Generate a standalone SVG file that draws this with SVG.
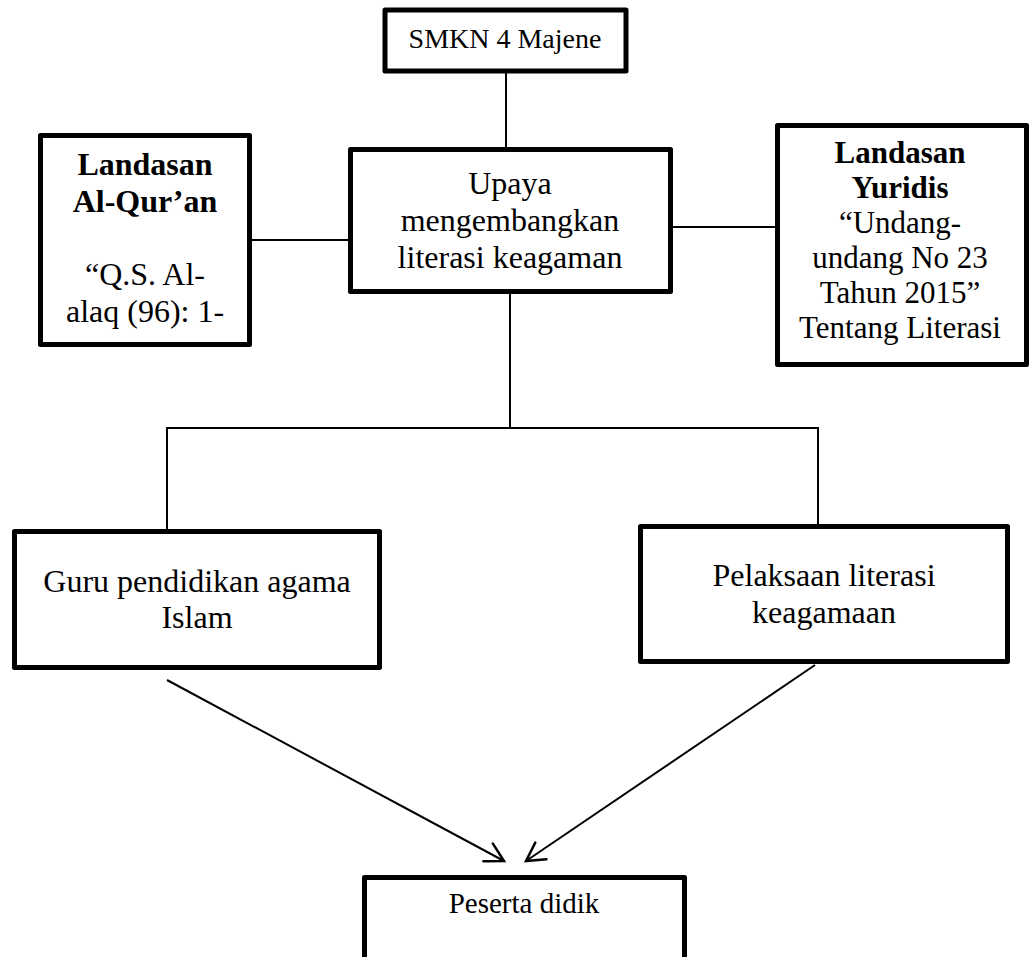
<svg xmlns="http://www.w3.org/2000/svg" width="1031" height="957" viewBox="0 0 1031 957">
<defs>
<style>
.box{fill:#fff;stroke:#000;stroke-width:5;stroke-linejoin:round}
.t{font-family:"Liberation Serif","Times New Roman",serif;font-size:32px;fill:#000;text-anchor:middle}
.r{font-size:31px}
.b{font-weight:bold}
.c{fill:none;stroke:#000;stroke-width:2}
</style>
<marker id="arr" markerWidth="24" markerHeight="24" refX="20" refY="12" orient="auto" markerUnits="userSpaceOnUse">
<path d="M2,2 L20,12 L2,22" fill="none" stroke="#000" stroke-width="2.5" stroke-linecap="round" stroke-linejoin="miter"/>
</marker>
</defs>
<rect width="1031" height="957" fill="#fff"/>
<g id="connectors">
<line class="c" x1="506" y1="73" x2="506" y2="148"/>
<line class="c" x1="252" y1="240" x2="348" y2="240"/>
<line class="c" x1="673" y1="227" x2="775" y2="227"/>
<polyline class="c" points="510,294 510,428"/>
<polyline class="c" points="167,529 167,428 818,428 818,524"/>
<line class="c" x1="167" y1="680" x2="504" y2="861" marker-end="url(#arr)"/>
<line class="c" x1="815" y1="665" x2="526" y2="861" marker-end="url(#arr)"/>
</g>
<g id="smkn">
<rect class="box" x="385" y="10" width="241" height="61"/>
<text class="t" x="505" y="48" style="font-size:28px">SMKN 4 Majene</text>
</g>
<g id="upaya">
<rect class="box" x="350.5" y="149.5" width="320" height="142"/>
<text class="t" x="510" y="194">Upaya</text>
<text class="t" x="510" y="231">mengembangkan</text>
<text class="t" x="510" y="268">literasi keagaman</text>
</g>
<g id="landasan-quran">
<rect class="box" x="40.5" y="135.5" width="209" height="209"/>
<text class="t b" x="145" y="175">Landasan</text>
<text class="t b" x="145" y="212">Al-Qur’an</text>
<text class="t" x="145" y="285">“Q.S. Al-</text>
<text class="t" x="145" y="322">alaq (96): 1-</text>
</g>
<g id="landasan-yuridis">
<rect class="box" x="777.5" y="125.5" width="249" height="239"/>
<text class="t r b" x="900" y="163">Landasan</text>
<text class="t r b" x="900" y="198">Yuridis</text>
<text class="t r" x="900" y="233">“Undang-</text>
<text class="t r" x="900" y="268">undang No 23</text>
<text class="t r" x="900" y="303">Tahun 2015”</text>
<text class="t r" x="900" y="338">Tentang Literasi</text>
</g>
<g id="guru">
<rect class="box" x="14.5" y="531.5" width="365" height="136"/>
<text class="t" x="197" y="592">Guru pendidikan agama</text>
<text class="t" x="197" y="628">Islam</text>
</g>
<g id="pelaksaan">
<rect class="box" x="640.5" y="526.5" width="367" height="135"/>
<text class="t" x="824" y="586">Pelaksaan literasi</text>
<text class="t" x="824" y="623">keagamaan</text>
</g>
<g id="peserta">
<rect class="box" x="364.5" y="877.5" width="320" height="100"/>
<text class="t" x="524" y="913" style="font-size:29px">Peserta didik</text>
</g>
</svg>
